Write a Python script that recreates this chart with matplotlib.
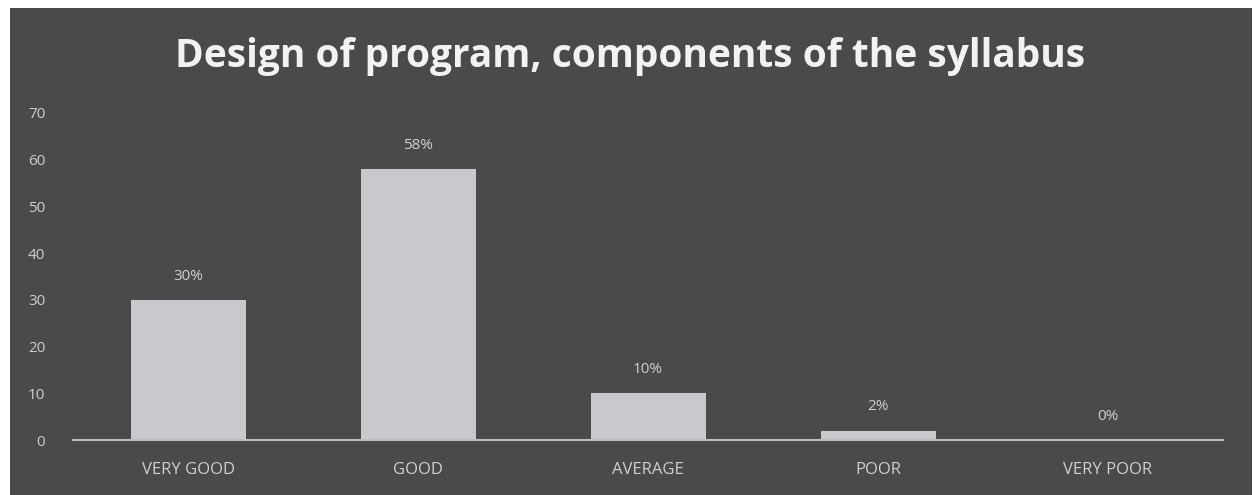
import matplotlib.pyplot as plt
from matplotlib.patches import Rectangle

# chart data
categories = ['VERY GOOD', 'GOOD', 'AVERAGE', 'POOR', 'VERY POOR']
values = [30, 58, 10, 2, 0]
labels = ['30%', '58%', '10%', '2%', '0%']
yticks = [0, 10, 20, 30, 40, 50, 60, 70]

bg = '#4a4a4d'
barcol = '#c9c9cd'
txtcol = '#cfcfcf'

fig = plt.figure(figsize=(12.54, 4.95), dpi=100, facecolor='white')
# dark slide panel with a thin white margin top/left
fig.patches.append(Rectangle((10/1254, 0), 1242/1254, 487/495,
                             transform=fig.transFigure, fc=bg, ec='none', zorder=-5))

ax = fig.add_axes([73/1254, 55/495, 1150/1254, 327/495])
ax.set_facecolor('none')
x = range(len(categories))
ax.bar(x, values, width=0.5, color=barcol, zorder=2)
for xi, v, lab in zip(x, values, labels):
    ax.text(xi, v + 3.5, lab, ha='center', va='bottom', color=txtcol,
            fontsize=11, family='Open Sans')

ax.set_xlim(-0.5, 4.5)
ax.set_ylim(0, 70)
ax.set_yticks(yticks)
ax.set_xticks(list(x))
ax.set_xticklabels(categories, fontsize=12, color=txtcol, family='Open Sans')
ax.set_yticklabels([str(t) for t in yticks], fontsize=11, color=txtcol, family='Open Sans')
ax.tick_params(length=0)
ax.tick_params(axis='x', pad=16)
ax.tick_params(axis='y', pad=20)
for s in ['top', 'right', 'left']:
    ax.spines[s].set_visible(False)
ax.spines['bottom'].set_color('#bdbdbd')
ax.spines['bottom'].set_linewidth(1.5)

fig.text(630/1254, 1 - 57/495, 'Design of program, components of the syllabus',
         ha='center', va='center', color='#f2f2f2', fontsize=28,
         fontweight='bold', family='Open Sans')

fig.savefig('out.png', dpi=100, facecolor='white')
